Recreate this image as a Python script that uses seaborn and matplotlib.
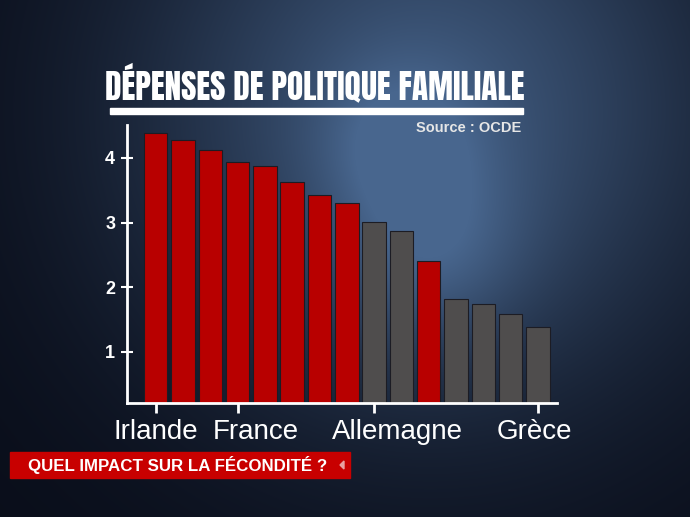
import numpy as np
import matplotlib.pyplot as plt
import matplotlib.transforms as mtransforms
import seaborn as sns

# Dépenses de politique familiale (% du PIB)
valeurs = [4.38, 4.28, 4.12, 3.93, 3.88, 3.63, 3.43, 3.31, 3.01, 2.87, 2.41, 1.82, 1.74, 1.59, 1.38]
etiquettes = ['Irlande', '', '', 'France', '', '', '', '', 'Allemagne', '', '', '', '', '', 'Grèce']
groupes = ['rouge', 'rouge', 'rouge', 'rouge', 'rouge', 'rouge', 'rouge', 'rouge',
           'gris', 'gris', 'rouge', 'gris', 'gris', 'gris', 'gris']
graduations_y = [1, 2, 3, 4]

couleurs = {'rouge': '#b80000', 'gris': '#4f4d4d'}

sns.set_style('dark')
plt.rcParams['font.family'] = ['Liberation Sans', 'DejaVu Sans']

W, H = 690, 517
fig = plt.figure(figsize=(W / 100, H / 100), dpi=100)

# fond bleu nuit avec halos flous
yy, xx = np.mgrid[0:H, 0:W]
def halo(cx, cy, s):
    return np.exp(-((xx - cx) ** 2 + (yy - cy) ** 2) / (2 * s ** 2))
base = np.array([9, 13, 25]) / 255
clair = np.array([72, 102, 142]) / 255
f = 0.8 * halo(430, 110, 210) + 0.35 * halo(430, 250, 65) + 0.3 * halo(400, 140, 55)
f = np.clip(f, 0, 1)[..., None]
img = base + (clair - base) * f
bg = fig.add_axes([0, 0, 1, 1])
bg.imshow(img, extent=[0, 1, 0, 1], aspect='auto', origin='upper', zorder=0)
bg.set_xlim(0, 1)
bg.set_ylim(0, 1)
bg.axis('off')

ax = fig.add_axes([127 / W, 1 - 403 / H, 430 / W, 278 / H])
ax.set_facecolor('none')
rang = list(range(len(valeurs)))
sns.barplot(x=rang, y=valeurs, hue=groupes, palette=couleurs, dodge=False, saturation=1,
            width=0.86, legend=False, ax=ax, zorder=2, edgecolor='#1c1c24', linewidth=0.8)
ax.set_xlim(-1.05, 14.7)
ax.set_ylim(0.21, 4.51)
ax.grid(False)
for s in ['top', 'right']:
    ax.spines[s].set_visible(False)
for s in ['left', 'bottom']:
    ax.spines[s].set_color('white')
    ax.spines[s].set_linewidth(2)
    ax.spines[s].set_zorder(3)

pos = [i for i, e in enumerate(etiquettes) if e]
ax.set_xticks(pos)
ax.set_xticklabels([etiquettes[i] for i in pos], fontsize=20, color='white')
ax.set_yticks(graduations_y)
ax.set_yticklabels([str(v) for v in graduations_y], fontsize=13, color='white', fontweight='bold')
ax.tick_params(axis='x', bottom=True, direction='inout', length=14.5, width=2, color='white', pad=4)
ax.tick_params(axis='y', left=True, direction='inout', length=9, width=1.5, color='white', pad=4)
ax.set_xlabel('')
ax.set_ylabel('')

# les noms ne sont pas tous centrés sous leur repère
decalages = [0, 18, 23, -4]
for lab, dx in zip(ax.get_xticklabels(), decalages):
    lab.set_transform(lab.get_transform() + mtransforms.ScaledTranslation(dx / 100, 0, fig.dpi_scale_trans))

fig.text(315 / W, 1 - 99.5 / H, 'DÉPENSES DE POLITIQUE FAMILIALE', ha='center', va='baseline',
         fontsize=24, color='white',
         family=['Anton', 'Liberation Sans Narrow', 'DejaVu Sans'])
fig.patches.append(plt.Rectangle((110 / W, 1 - 114 / H), 413 / W, 6 / H,
                                 transform=fig.transFigure, color='white', zorder=3))
fig.text(521 / W, 1 - 128 / H, 'Source : OCDE', ha='right', va='center',
         fontsize=10.5, fontweight='bold', color='#e6e6e6')

fig.patches.append(plt.Rectangle((10 / W, 1 - 478 / H), 340 / W, 26 / H,
                                 transform=fig.transFigure, color='#c80000', zorder=3))
fig.patches.append(plt.Polygon([(340 / W, 1 - 465 / H), (344 / W, 1 - 461 / H), (344 / W, 1 - 469 / H)],
                               transform=fig.transFigure, color='#e8a0a0', zorder=4))
fig.text(28 / W, 1 - 465 / H, 'QUEL IMPACT SUR LA FÉCONDITÉ ?', ha='left', va='center',
         fontsize=12.2, fontweight='bold', color='white')

fig.savefig('out.png', dpi=100)
